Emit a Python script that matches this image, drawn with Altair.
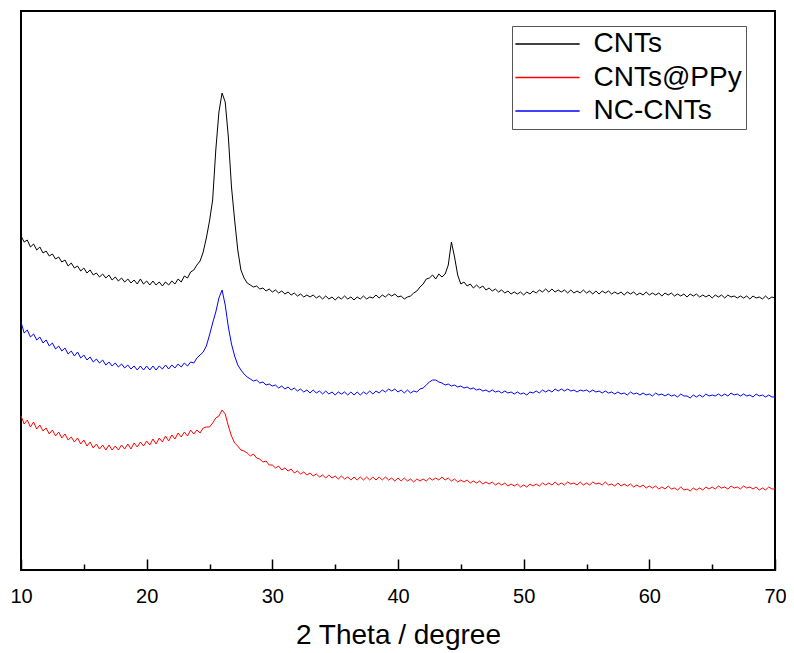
import altair as alt
import pandas as pd

# 2-theta sampling positions (degrees), one row per degree
two_theta = [
    10.0, 10.25, 10.5, 10.75, 11.0, 11.25, 11.5, 11.75, 12.0, 12.25, 12.5, 12.75,
    13.0, 13.25, 13.5, 13.75, 14.0, 14.25, 14.5, 14.75, 15.0, 15.25, 15.5, 15.75,
    16.0, 16.25, 16.5, 16.75, 17.0, 17.25, 17.5, 17.75, 18.0, 18.25, 18.5, 18.75,
    19.0, 19.25, 19.5, 19.75, 20.0, 20.25, 20.5, 20.75, 21.0, 21.25, 21.5, 21.75,
    22.0, 22.25, 22.5, 22.75, 23.0, 23.25, 23.5, 23.75, 24.0, 24.25, 24.5, 24.75,
    25.0, 25.25, 25.5, 25.75, 26.0, 26.25, 26.5, 26.75, 27.0, 27.25, 27.5, 27.75,
    28.0, 28.25, 28.5, 28.75, 29.0, 29.25, 29.5, 29.75, 30.0, 30.25, 30.5, 30.75,
    31.0, 31.25, 31.5, 31.75, 32.0, 32.25, 32.5, 32.75, 33.0, 33.25, 33.5, 33.75,
    34.0, 34.25, 34.5, 34.75, 35.0, 35.25, 35.5, 35.75, 36.0, 36.25, 36.5, 36.75,
    37.0, 37.25, 37.5, 37.75, 38.0, 38.25, 38.5, 38.75, 39.0, 39.25, 39.5, 39.75,
    40.0, 40.25, 40.5, 40.75, 41.0, 41.25, 41.5, 41.75, 42.0, 42.25, 42.5, 42.75,
    43.0, 43.25, 43.5, 43.75, 44.0, 44.25, 44.5, 44.75, 45.0, 45.25, 45.5, 45.75,
    46.0, 46.25, 46.5, 46.75, 47.0, 47.25, 47.5, 47.75, 48.0, 48.25, 48.5, 48.75,
    49.0, 49.25, 49.5, 49.75, 50.0, 50.25, 50.5, 50.75, 51.0, 51.25, 51.5, 51.75,
    52.0, 52.25, 52.5, 52.75, 53.0, 53.25, 53.5, 53.75, 54.0, 54.25, 54.5, 54.75,
    55.0, 55.25, 55.5, 55.75, 56.0, 56.25, 56.5, 56.75, 57.0, 57.25, 57.5, 57.75,
    58.0, 58.25, 58.5, 58.75, 59.0, 59.25, 59.5, 59.75, 60.0, 60.25, 60.5, 60.75,
    61.0, 61.25, 61.5, 61.75, 62.0, 62.25, 62.5, 62.75, 63.0, 63.25, 63.5, 63.75,
    64.0, 64.25, 64.5, 64.75, 65.0, 65.25, 65.5, 65.75, 66.0, 66.25, 66.5, 66.75,
    67.0, 67.25, 67.5, 67.75, 68.0, 68.25, 68.5, 68.75, 69.0, 69.25, 69.5, 69.75,
    70.0,
]

# Readings measured downward from the top of the frame (arbitrary units)
cnts_depth = [
    236, 242, 240, 247, 244, 250, 247, 253, 251, 256, 254, 259,
    257, 262, 260, 266, 263, 268, 266, 271, 268, 273, 270, 275,
    273, 277, 274, 278, 275, 280, 277, 281, 278, 282, 279, 283,
    280, 284, 279, 284, 281, 285, 281, 285, 282, 286, 282, 285,
    281, 284, 279, 282, 276, 278, 272, 270, 265, 261, 252, 238,
    221, 200, 150, 112, 93, 102, 137, 187, 220, 250, 270, 278,
    283, 285, 287, 286, 289, 288, 291, 289, 292, 290, 293, 291,
    294, 292, 295, 293, 296, 294, 297, 295, 297, 295, 298, 296,
    299, 296, 299, 297, 300, 297, 299, 296, 299, 297, 300, 297,
    299, 296, 299, 297, 298, 295, 298, 295, 297, 294, 296, 294,
    297, 296, 299, 297, 296, 293, 291, 287, 284, 279, 278, 275,
    279, 274, 277, 274, 265, 242, 257, 275, 284, 282, 286, 284,
    288, 285, 288, 286, 290, 288, 291, 289, 292, 290, 293, 291,
    294, 292, 294, 292, 295, 292, 294, 291, 293, 290, 292, 289,
    292, 289, 292, 290, 292, 290, 293, 290, 293, 291, 293, 290,
    293, 291, 294, 291, 294, 291, 293, 291, 294, 292, 294, 292,
    295, 292, 294, 292, 295, 293, 295, 292, 295, 293, 295, 293,
    296, 293, 295, 293, 296, 294, 296, 294, 297, 294, 296, 294,
    297, 295, 297, 295, 298, 295, 297, 295, 298, 295, 297, 296,
    298, 296, 298, 296, 299, 296, 298, 297, 299, 296, 299, 297,
    298,
]
ppy_depth = [
    416, 424, 420, 427, 422, 429, 425, 431, 428, 434, 430, 436,
    432, 438, 434, 440, 437, 442, 438, 444, 440, 446, 442, 448,
    444, 449, 445, 450, 445, 450, 446, 450, 445, 449, 444, 449,
    443, 447, 442, 446, 441, 445, 439, 444, 438, 442, 436, 441,
    435, 439, 433, 437, 432, 436, 430, 434, 430, 433, 428, 427,
    427, 423, 418, 416, 410, 414, 426, 436, 443, 446, 450, 451,
    453, 456, 454, 458, 459, 462, 461, 465, 465, 468, 466, 470,
    468, 471, 469, 473, 471, 474, 472, 475, 473, 476, 474, 477,
    475, 478, 475, 478, 476, 479, 476, 479, 477, 480, 477, 480,
    477, 480, 477, 480, 477, 480, 477, 480, 477, 480, 478, 481,
    478, 481, 478, 481, 479, 482, 479, 481, 479, 481, 478, 480,
    478, 480, 477, 480, 478, 481, 479, 482, 480, 482, 480, 483,
    481, 483, 481, 484, 482, 484, 482, 485, 483, 485, 483, 486,
    484, 486, 484, 487, 485, 487, 484, 486, 484, 486, 483, 485,
    483, 485, 482, 485, 483, 485, 482, 484, 483, 485, 482, 485,
    483, 485, 482, 484, 483, 485, 482, 485, 484, 486, 483, 486,
    484, 486, 484, 487, 485, 487, 485, 488, 486, 488, 486, 489,
    487, 489, 486, 489, 488, 490, 487, 490, 489, 491, 488, 490,
    488, 490, 487, 489, 487, 489, 486, 488, 487, 489, 486, 488,
    487, 489, 486, 488, 487, 489, 487, 490, 488, 490, 487, 489,
    489,
]
nc_depth = [
    322, 333, 330, 337, 334, 340, 337, 343, 340, 346, 343, 349,
    346, 351, 348, 354, 351, 356, 352, 358, 355, 360, 357, 362,
    359, 363, 360, 365, 362, 366, 363, 367, 364, 368, 365, 369,
    366, 370, 366, 370, 366, 370, 366, 370, 366, 369, 365, 369,
    365, 368, 364, 367, 363, 366, 362, 363, 358, 355, 352, 346,
    335, 323, 312, 298, 290, 305, 327, 344, 356, 365, 370, 374,
    377, 379, 381, 380, 383, 382, 385, 384, 386, 385, 388, 386,
    389, 387, 390, 388, 391, 389, 392, 390, 393, 390, 393, 391,
    394, 391, 394, 392, 395, 392, 394, 392, 395, 392, 395, 392,
    395, 392, 394, 391, 394, 391, 393, 390, 392, 389, 391, 389,
    392, 390, 393, 390, 393, 391, 392, 389, 388, 385, 382, 380,
    380, 382, 383, 385, 384, 386, 385, 387, 386, 388, 387, 389,
    388, 390, 389, 391, 390, 392, 390, 392, 391, 393, 391, 393,
    392, 394, 392, 394, 393, 395, 392, 393, 391, 393, 390, 392,
    390, 392, 389, 391, 389, 391, 389, 391, 390, 392, 390, 391,
    390, 392, 390, 392, 391, 393, 391, 393, 392, 394, 392, 394,
    393, 395, 392, 394, 393, 395, 393, 395, 394, 396, 393, 395,
    394, 396, 394, 396, 395, 397, 394, 396, 396, 398, 395, 397,
    395, 397, 394, 396, 395, 396, 394, 396, 394, 396, 393, 395,
    394, 396, 394, 396, 395, 397, 394, 396, 395, 397, 395, 397,
    397,
]

series_names = ["CNTs", "CNTs@PPy", "NC-CNTs"]
series_colors = ["#000000", "#ff0000", "#0000ff"]
major_ticks = [10, 20, 30, 40, 50, 60, 70]
minor_ticks = [15, 25, 35, 45, 55, 65]

FRAME = 570  # reference level for converting depth readings to intensity
rows = []
for name, vals in zip(series_names, [cnts_depth, ppy_depth, nc_depth]):
    assert len(vals) == len(two_theta)
    for t, v in zip(two_theta, vals):
        rows.append({"theta": t, "intensity": FRAME - v, "series": name})
df = pd.DataFrame(rows)
ticks_df = pd.DataFrame({"theta": major_ticks})
minor_df = pd.DataFrame({"theta": minor_ticks})

FONT = "Arial, Liberation Sans, sans-serif"
xscale = alt.Scale(domain=[10, 70], nice=False, zero=False)

lines = alt.Chart(df).mark_line(strokeWidth=1).encode(
    x=alt.X("theta:Q", scale=xscale,
            axis=alt.Axis(orient="bottom", values=major_ticks, ticks=False, domain=False,
                          grid=False, labelFlush=False, labelFontSize=20, labelFont=FONT,
                          labelColor="black", labelPadding=16, title="2 Theta / degree",
                          titleFont=FONT, titleFontSize=28, titleFontWeight="normal",
                          titleColor="black", titlePadding=15)),
    y=alt.Y("intensity:Q", scale=alt.Scale(domain=[0, 559], nice=False, zero=False), axis=None),
    color=alt.Color("series:N",
                    scale=alt.Scale(domain=series_names, range=series_colors),
                    legend=alt.Legend(orient="none", legendX=491, legendY=15, title=None,
                                      symbolType="M-4,0H4", symbolSize=258, symbolStrokeWidth=1.3,
                                      symbolOffset=17.5, labelFontSize=28, labelFont=FONT,
                                      labelColor="black", labelOffset=32, rowPadding=5.5,
                                      padding=4, strokeColor="#555555", fillColor="white")),
    order=alt.Order("theta:Q"),
)

major = alt.Chart(ticks_df).mark_point(opacity=0).encode(
    x=alt.X("theta:Q", scale=xscale,
            axis=alt.Axis(orient="bottom", values=major_ticks, labels=False, domain=False,
                          grid=False, ticks=True, tickSize=11, tickWidth=1.5,
                          tickColor="black", offset=-11, title=None))
)
minor = alt.Chart(minor_df).mark_point(opacity=0).encode(
    x=alt.X("theta:Q", scale=xscale,
            axis=alt.Axis(orient="bottom", values=minor_ticks, labels=False, domain=False,
                          grid=False, ticks=True, tickSize=6, tickWidth=1.5,
                          tickColor="black", offset=-6, title=None))
)

chart = alt.layer(lines, major, minor).resolve_axis(x="independent").properties(
    width=754, height=559,
    autosize="none",
    padding={"left": 13, "top": 3, "right": 11, "bottom": 80},
    background="white",
).configure_view(stroke="black", strokeWidth=2)

chart.save("out.html", embed_options={"renderer": "svg", "actions": False})
